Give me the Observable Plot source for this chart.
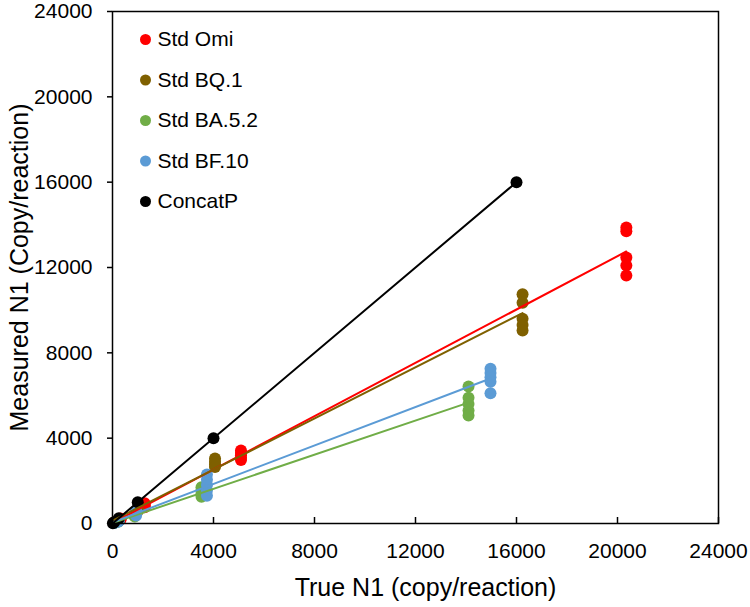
<!DOCTYPE html>
<html>
<head>
<meta charset="utf-8">
<script src="https://cdn.jsdelivr.net/npm/d3@7"></script>
<script src="https://cdn.jsdelivr.net/npm/@observablehq/plot@0.6"></script>
<style>
  html, body { margin: 0; padding: 0; background: #fff; }
  #chart { width: 750px; height: 607px; }
  svg { font-family: "Liberation Sans", Arial, sans-serif; }
</style>
</head>
<body>
<div id="chart"></div>
<script>
const seriesNames = ["Std Omi", "Std BQ.1", "Std BA.5.2", "Std BF.10", "ConcatP"];
const seriesColors = ["#ff0000", "#7f6000", "#70ad47", "#5b9bd5", "#000000"];

const omiTrue = [20350,20350,20350,20350,20350, 5088,5088,5088,5088,5088, 1272,1272,1272,1272, 318,318,318, 80,80];
const omiMeas = [13880,13700,12470,12090,11620, 3420,3300,3200,3080,2980, 950,880,820,760, 240,210,190, 60,50];

const bq1True = [16240,16240,16240,16240,16240, 4060,4060,4060,4060, 1015,1015,1015, 254,254,254, 63,63];
const bq1Meas = [10750,10350,9600,9300,9050, 3050,2900,2780,2650, 720,660,610, 170,150,140, 40,35];

const ba52True = [14100,14100,14100,14100,14100, 3525,3525,3525,3525, 881,881,881, 220,220,220, 55,55];
const ba52Meas = [6420,5900,5600,5300,5060, 1700,1550,1400,1250, 430,370,330, 100,90,80, 25,20];

const bf10True = [14970,14970,14970,14970,14970, 3740,3740,3740,3740,3740, 935,935,935, 234,234,234, 58,58];
const bf10Meas = [7250,7050,6850,6650,6100, 2300,2050,1800,1550,1300, 600,480,370, 110,100,90, 28,25];

const concatTrue = [15.6, 62.5, 250, 1000, 4000, 16000];
const concatMeas = [15.6, 62.5, 250, 1000, 4000, 16000];

const axisTicks = [0, 4000, 8000, 12000, 16000, 20000, 24000];
const xTitle = "True N1 (copy/reaction)";
const yTitle = "Measured N1 (Copy/reaction)";

const seriesData = [
  [omiTrue, omiMeas], [bq1True, bq1Meas], [ba52True, ba52Meas], [bf10True, bf10Meas], [concatTrue, concatMeas]
];
const rows = [];
seriesData.forEach(([xs, ys], i) => {
  xs.forEach((x, j) => rows.push({series: seriesNames[i], x, y: ys[j]}));
});

const legendMarks = [];
seriesNames.forEach((name, i) => {
  legendMarks.push(Plot.dot([name], {frameAnchor: "top-left", dx: 33, dy: 28 + i * 40.5, r: 5.5, fill: seriesColors[i]}));
  legendMarks.push(Plot.text([name], {frameAnchor: "top-left", dx: 45, dy: 28 + i * 40.5, text: d => d, textAnchor: "start", lineAnchor: "middle", fontSize: 21, fill: "#000"}));
});

const chart = Plot.plot({
  width: 750,
  height: 607,
  marginTop: 11,
  marginBottom: 84,
  marginLeft: 112,
  marginRight: 32,
  style: {fontFamily: "'Liberation Sans', Arial, sans-serif", background: "#fff"},
  x: {domain: [0, 24000], ticks: axisTicks},
  y: {domain: [0, 24000], ticks: axisTicks},
  color: {domain: seriesNames, range: seriesColors},
  marks: [
    Plot.dot(rows, {x: "x", y: "y", fill: "series", r: 6}),
    Plot.linearRegressionY(rows, {x: "x", y: "y", z: "series", stroke: "series", ci: 0, strokeWidth: 2}),
    Plot.axisX({ticks: axisTicks, tickSize: -6, tickPadding: 26, tickFormat: d3.format("d"), fontSize: 21, label: null, stroke: "#000", strokeWidth: 1.5, color: "#000"}),
    Plot.axisY({ticks: axisTicks, tickSize: 5, tickPadding: 15, tickFormat: d3.format("d"), fontSize: 21, label: null, strokeWidth: 1.5, color: "#000"}),
    Plot.frame({stroke: "#000", strokeWidth: 1.5}),
    Plot.text([xTitle], {frameAnchor: "bottom", dy: 64, dx: 10, text: d => d, fontSize: 25, textAnchor: "middle", lineAnchor: "middle", fill: "#000"}),
    Plot.text([yTitle], {frameAnchor: "left", dx: -93, rotate: -90, text: d => d, fontSize: 25, textAnchor: "middle", lineAnchor: "middle", fill: "#000"}),
    ...legendMarks
  ]
});
document.getElementById("chart").appendChild(chart);
</script>
</body>
</html>
